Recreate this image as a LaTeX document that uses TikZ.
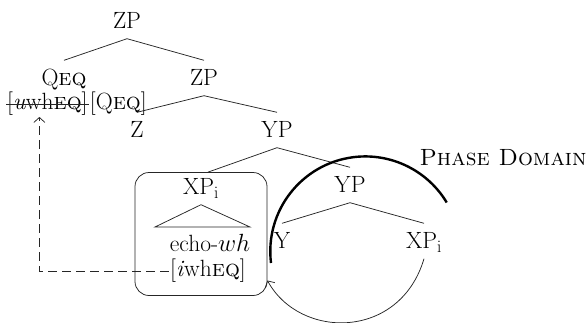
\documentclass[tikz,border=0pt]{standalone}
\usetikzlibrary{positioning,arrows.meta}

\begin{document}
\begin{tikzpicture}[x=1pt, y=-1pt, font=\fontsize{23.5}{27}\selectfont,
  lab/.style={inner xsep=2pt, inner ysep=10pt, text height=15pt, text depth=0pt},
  feat/.style={inner sep=1pt},
  branch/.style={line width=0.75pt, black!85},
  >={Straight Barb[length=5pt,width=11pt]}]

\def \rad {95}

\useasboundingbox (0,0) rectangle (587,322);

% top of the tree
\node[lab] (zp1) at (127,21) {ZP};
\node[lab] (qeq) at (64,78) {Q\textsc{eq}};
\node[lab] (zp2) at (204,78) {ZP};
\node[feat, anchor=west] (uwh) at (6,104) {[\textit{u}wh\textsc{eq}]};
\node[feat, right=0pt of uwh] (qf) {[Q\textsc{eq}]};
\node[lab] (z) at (137,130) {Z};
\node[lab] (yp1) at (277,130) {YP};

% moved phrase in its box
\node[draw, branch, rounded corners=14pt, minimum width=132pt, minimum height=123pt] (box) at (201,234) {};
\node[lab] (xp1) at (201,187) {XP$_{\mathrm{i}}$};
\node[feat] (echo) at (210,243) {echo-$wh$};
\node[feat] (iwh) at (208,271) {[\textit{i}wh\textsc{eq}]};

% phase domain
\node[lab] (yp2) at (350,185) {YP};
\node[lab] (y) at (282,241) {Y};
\node[lab] (xp2) at (424,241) {XP$_{\mathrm{i}}$};
\node[feat] (phase) at (503,158) {\textsc{Phase Domain}};

\draw[branch] (zp1.south) -- (qeq.north);
\draw[branch] (zp1.south) -- (zp2.north);
\draw[branch] (zp2.south) -- (z.north);
\draw[branch] (zp2.south) -- (yp1.north);
\draw[branch] (yp1.south) -- ([xshift=7pt]box.north);
\draw[branch] (yp1.south) -- (yp2.north);
\draw[branch] (yp2.south) -- (y.north);
\draw[branch] (yp2.south) -- (xp2.north);
\draw[branch] (xp1.south) -- (155,227) -- (250,227) -- cycle;
\draw[branch] (uwh.west) -- (uwh.east);

\draw[line width=2.4pt] (271,263) arc[start angle=173, end angle=329, radius=\rad];

\draw[branch, ->, dash pattern=on 9pt off 5pt] (iwh.west) -| ([xshift=-8pt]uwh.south);
\draw[branch, ->] (xp2.south) .. controls (400,340) and (300,340) .. (box.-35);
\end{tikzpicture}
\end{document}
